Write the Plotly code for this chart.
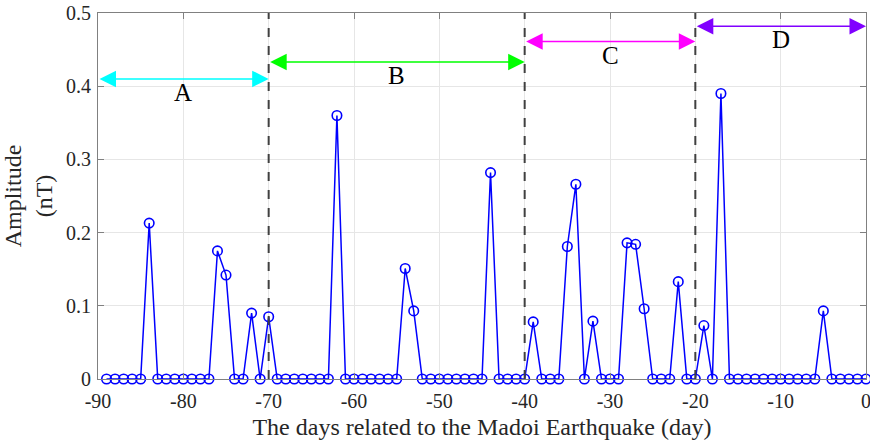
import plotly.graph_objects as go

days = list(range(-89, 1))
peaks = {-84: 0.213, -76: 0.175, -75: 0.142, -72: 0.090, -70: 0.085,
         -62: 0.360, -54: 0.151, -53: 0.093, -44: 0.282, -39: 0.078,
         -35: 0.181, -34: 0.266, -32: 0.079, -28: 0.186, -27: 0.184,
         -26: 0.096, -22: 0.133, -19: 0.073, -17: 0.390, -5: 0.093}
amplitude = [peaks.get(d, 0.0) for d in days]

x_tick_vals = [-90, -80, -70, -60, -50, -40, -30, -20, -10, 0]
x_tick_text = ["-90", "-80", "-70", "-60", "-50", "-40", "-30", "-20", "-10", "0"]
y_tick_vals = [0, 0.1, 0.2, 0.3, 0.4, 0.5]
y_tick_text = ["0", "0.1", "0.2", "0.3", "0.4", "0.5"]

boundaries = [-70, -40, -20]
periods = ["A", "B", "C", "D"]
period_start = [-90, -70, -40, -20]
period_end = [-70, -40, -20, 0]
arrow_level = [0.41, 0.433, 0.461, 0.482]
label_level = [0.391, 0.414, 0.442, 0.464]
arrow_colors = ["#00FFFF", "#00FF00", "#FF00FF", "#8000FF"]

FONT = "Liberation Serif"
TXT = "#262626"

fig = go.Figure()
fig.add_trace(go.Scatter(
    x=days, y=amplitude, mode="lines+markers",
    line=dict(color="#0000FF", width=1.5),
    marker=dict(symbol="circle-open", size=9.5, color="#0000FF", line=dict(width=1.6)),
    showlegend=False, cliponaxis=False))

for b in boundaries:
    fig.add_shape(type="line", x0=b, x1=b, y0=0, y1=0.5, xref="x", yref="y",
                  line=dict(color="#404040", width=2, dash="dash"))

for name, s, e, ya, yl, c in zip(periods, period_start, period_end, arrow_level, label_level, arrow_colors):
    fig.add_annotation(x=e, y=ya, ax=s, ay=ya, xref="x", yref="y", axref="x", ayref="y",
                       text="", showarrow=True, arrowside="end+start",
                       arrowhead=2, startarrowhead=2, arrowsize=2.2, startarrowsize=2.2,
                       arrowwidth=1.5, arrowcolor=c)
    fig.add_annotation(x=(s + e) / 2, y=yl, xref="x", yref="y", text=name, showarrow=False,
                       font=dict(family=FONT, size=25, color="#000000"))

axis_common = dict(showline=True, linecolor="#808080", linewidth=1, mirror="ticks",
                   ticks="inside", ticklen=6, tickcolor="#808080",
                   showgrid=True, gridcolor="#E6E6E6", gridwidth=1, zeroline=False,
                   automargin=False, ticklabeloverflow="allow",
                   tickfont=dict(family=FONT, size=20, color=TXT))

fig.update_layout(
    width=870, height=443,
    margin=dict(l=98, r=4, t=13, b=64),
    plot_bgcolor="white", paper_bgcolor="white",
    xaxis=dict(range=[-90, 0], tickvals=x_tick_vals, ticktext=x_tick_text,
               ticklabelstandoff=4,
               title=dict(text="The days related to the Madoi Earthquake (day)",
                          font=dict(family=FONT, size=24, color=TXT), standoff=7),
               **axis_common),
    yaxis=dict(range=[0, 0.5], tickvals=y_tick_vals, ticktext=y_tick_text,
               ticklabelstandoff=2,
               title=dict(text="Amplitude<br>(nT)",
                          font=dict(family=FONT, size=24, color=TXT), standoff=9),
               **axis_common),
)

# remove the browser's default page margin so the figure fills the window exactly
fig.write_html("out.html", config={"displayModeBar": False},
               post_script="document.body.style.margin='0px';")
